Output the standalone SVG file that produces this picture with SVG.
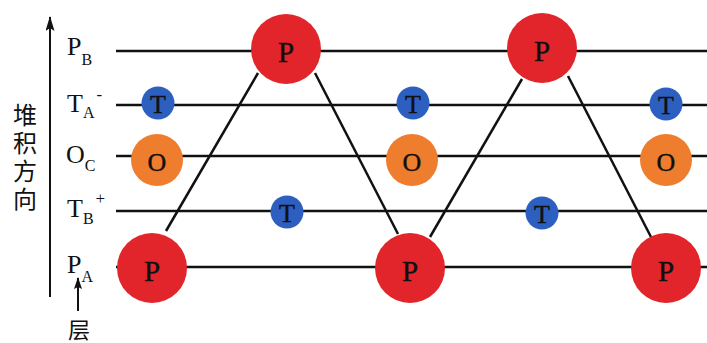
<svg xmlns="http://www.w3.org/2000/svg" width="707" height="343" viewBox="0 0 707 343">
  <style>
    .bg { fill: #ffffff; }
    .layer { stroke: #111; stroke-width: 2.5; fill: none; }
    .link { stroke: #111; stroke-width: 2.5; fill: none; }
    .axis { stroke: #111; stroke-width: 2; fill: none; }
    .p { fill: #e1252a; }
    .t { fill: #2d5fc0; }
    .o { fill: #ef7d2e; }
    .lbl { font-family: "Liberation Serif", "Times New Roman", serif; fill: #111; }
    .node-txt { font-family: "Liberation Serif", "Times New Roman", serif; fill: #111; stroke: #111; stroke-width: 0.4; text-anchor: middle; dominant-baseline: central; }
    .cjk { font-family: "Noto Sans CJK SC", sans-serif; fill: #111; text-anchor: middle; }
  </style>
  <defs>
    <marker id="arrow" viewBox="0 0 15 9" refX="14" refY="4.5" markerWidth="15" markerHeight="9" orient="auto" markerUnits="userSpaceOnUse">
      <path d="M0,0 L15,4.5 L0,9 L3,4.5 z" fill="#111"/>
    </marker>
    <marker id="arrow-s" viewBox="0 0 12 8" refX="11" refY="4" markerWidth="12" markerHeight="8" orient="auto" markerUnits="userSpaceOnUse">
      <path d="M0,0 L12,4 L0,8 L2,4 z" fill="#111"/>
    </marker>
  </defs>
  <rect class="bg" x="0" y="0" width="707" height="343"/>

  <!-- stacking axis and its caption -->
  <g id="axis">
    <line class="axis" x1="50" y1="297" x2="50" y2="17" marker-end="url(#arrow)"/>
    <text class="cjk" x="25" y="159" font-size="24" writing-mode="tb" letter-spacing="4">堆积方向</text>
    <line class="axis" x1="78" y1="311" x2="78" y2="278" marker-end="url(#arrow-s)"/>
    <text class="cjk" x="79" y="338" font-size="22">层</text>
  </g>

  <!-- layer labels -->
  <g id="labels" class="lbl" font-size="26">
    <text x="67" y="55">P<tspan font-size="16" dy="10">B</tspan></text>
    <text x="67" y="112">T<tspan font-size="16" dy="6">A</tspan><tspan font-size="17" dx="2" dy="-18">-</tspan></text>
    <text x="66" y="163">O<tspan font-size="16" dy="8">C</tspan></text>
    <text x="67" y="217">T<tspan font-size="16" dy="7">B</tspan><tspan font-size="17" dx="2" dy="-20">+</tspan></text>
    <text x="67" y="273">P<tspan font-size="16" dy="9">A</tspan></text>
  </g>

  <!-- layer lines and bonds -->
  <g id="connectors">
    <line class="layer" x1="116" y1="51" x2="707" y2="51"/>
    <line class="layer" x1="116" y1="105" x2="707" y2="105"/>
    <line class="layer" x1="116" y1="156" x2="707" y2="156"/>
    <line class="layer" x1="116" y1="211" x2="707" y2="211"/>
    <line class="layer" x1="116" y1="267" x2="707" y2="267"/>
    <line class="link" x1="166" y1="231" x2="258" y2="73"/>
    <line class="link" x1="315" y1="73" x2="398" y2="234"/>
    <line class="link" x1="430" y1="237" x2="522" y2="79"/>
    <line class="link" x1="568" y1="76" x2="651" y2="237"/>
  </g>

  <!-- P atoms -->
  <g id="pb1"><circle class="p" cx="286" cy="49" r="35"/><text class="node-txt" x="286" y="52" font-size="29">P</text></g>
  <g id="pb2"><circle class="p" cx="542" cy="48" r="35"/><text class="node-txt" x="542" y="51" font-size="29">P</text></g>
  <g id="pa1"><circle class="p" cx="152" cy="268" r="35"/><text class="node-txt" x="152" y="271" font-size="29">P</text></g>
  <g id="pa2"><circle class="p" cx="410" cy="268" r="35"/><text class="node-txt" x="410" y="271" font-size="29">P</text></g>
  <g id="pa3"><circle class="p" cx="666" cy="268" r="35"/><text class="node-txt" x="666" y="271" font-size="29">P</text></g>

  <!-- T atoms -->
  <g id="ta1"><circle class="t" cx="158" cy="103" r="16.5"/><text class="node-txt" x="158" y="104" font-size="26">T</text></g>
  <g id="ta2"><circle class="t" cx="413" cy="103" r="16.5"/><text class="node-txt" x="413" y="104" font-size="26">T</text></g>
  <g id="ta3"><circle class="t" cx="666" cy="104" r="16.5"/><text class="node-txt" x="666" y="105" font-size="26">T</text></g>
  <g id="tb1"><circle class="t" cx="287" cy="212" r="16.5"/><text class="node-txt" x="287" y="213" font-size="26">T</text></g>
  <g id="tb2"><circle class="t" cx="542" cy="213" r="16.5"/><text class="node-txt" x="542" y="214" font-size="26">T</text></g>

  <!-- O atoms -->
  <g id="oc1"><circle class="o" cx="157" cy="160" r="26"/><text class="node-txt" x="157" y="162" font-size="26">O</text></g>
  <g id="oc2"><circle class="o" cx="412" cy="160" r="26"/><text class="node-txt" x="412" y="162" font-size="26">O</text></g>
  <g id="oc3"><circle class="o" cx="666" cy="160" r="26"/><text class="node-txt" x="666" y="162" font-size="26">O</text></g>
</svg>
